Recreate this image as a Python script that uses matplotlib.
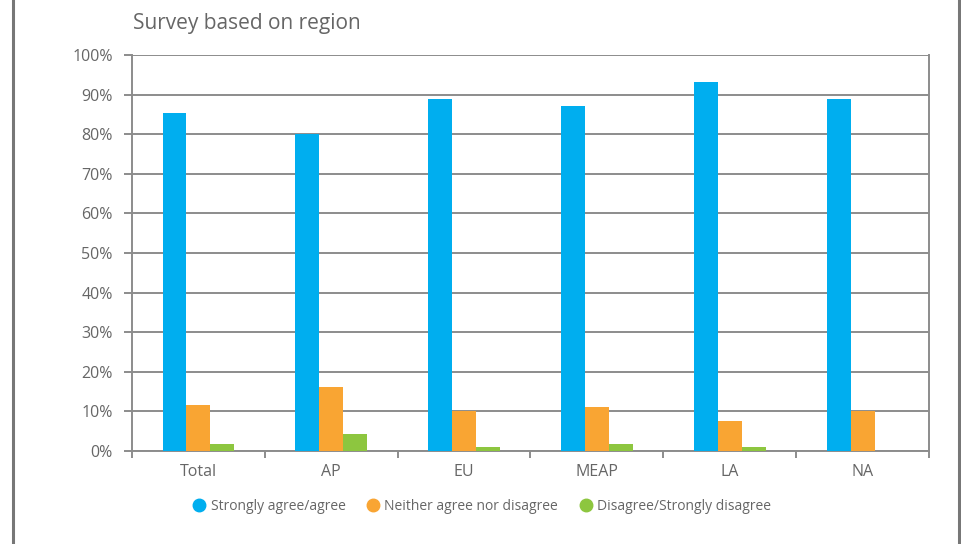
import matplotlib
matplotlib.use("Agg")
import matplotlib.pyplot as plt
from matplotlib.lines import Line2D
import numpy as np

plt.rcParams['font.family'] = ['Open Sans', 'DejaVu Sans']

regions = ["Total", "AP", "EU", "MEAP", "LA", "NA"]
series_names = ["Strongly agree/agree", "Neither agree nor disagree", "Disagree/Strongly disagree"]
agree = [85.4, 80.0, 89.0, 87.2, 93.3, 89.0]
neutral = [11.7, 16.2, 10.0, 11.0, 7.6, 10.0]
disagree = [1.7, 4.4, 1.0, 1.7, 1.0, 0.0]
colors = ["#00AEEF", "#F9A533", "#8DC63F"]
y_ticks = [0, 10, 20, 30, 40, 50, 60, 70, 80, 90, 100]
y_tick_labels = [f"{v}%" for v in y_ticks]

text_color = "#666666"
line_color = "#8c8c8c"

fig = plt.figure(figsize=(9.62, 5.44), dpi=100)
ax = fig.add_axes([132 / 962, 1 - 451 / 544, (929 - 132) / 962, (451 - 55) / 544])

x = np.arange(len(regions))
width = 0.18
for i, (vals, c) in enumerate(zip([agree, neutral, disagree], colors)):
    ax.bar(x + (i - 1) * width, vals, width=width, color=c, zorder=3, linewidth=0)

ax.set_xlim(-0.5, len(regions) - 0.5)
ax.set_ylim(0, 100)
ax.set_yticks(y_ticks)
ax.set_yticklabels(y_tick_labels)
ax.yaxis.grid(True, color=line_color, linewidth=1.4, zorder=0)

# category labels centred, tick marks on boundaries
ax.set_xticks(x)
ax.set_xticklabels(regions)
ax.tick_params(axis='x', which='major', length=0, pad=9, labelsize=11.5, labelcolor=text_color)
ax.set_xticks(np.arange(-0.5, len(regions)), minor=True)
ax.tick_params(axis='x', which='minor', length=5, width=1.4, color=line_color, direction='out')
ax.tick_params(axis='y', length=5.8, width=1.4, color=line_color, pad=8,
               labelsize=11.5, labelcolor=text_color)

for side in ['left', 'right', 'bottom', 'top']:
    ax.spines[side].set_color(line_color)
    ax.spines[side].set_linewidth(1.4)
ax.spines['top'].set_visible(False)

fig.text(133 / 962, 1 - 23 / 544, "Survey based on region", fontsize=15,
         color=text_color, va='center', ha='left')

handles = [Line2D([0], [0], marker='o', linestyle='none', markersize=9,
                  markerfacecolor=c, markeredgecolor=c) for c in colors]
fig.legend(handles, series_names, loc='center', bbox_to_anchor=(481 / 962, 1 - 506 / 544),
           ncol=3, frameon=False, fontsize=10, labelcolor=text_color,
           handletextpad=0.2, columnspacing=1.4, handlelength=1.2)

# side frame lines
for xf in (12.5 / 962, 959 / 962):
    fig.add_artist(Line2D([xf, xf], [0, 1], color="#777777", linewidth=2.2,
                          transform=fig.transFigure))

fig.savefig("out.png", dpi=100)
